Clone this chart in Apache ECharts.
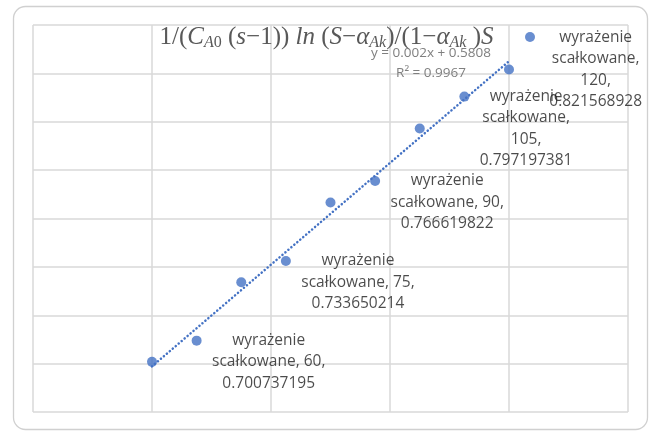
<!DOCTYPE html>
<html><head><meta charset="utf-8">
<script src="https://cdn.jsdelivr.net/npm/echarts@6/dist/echarts.min.js"></script>
<style>html,body{margin:0;padding:0;background:#fff}#c{width:653px;height:432px}</style>
</head><body><div id="c"></div>
<script>
const seriesName = 'wyrażenie scałkowane';
const xValues = [60, 67.5, 75, 82.5, 90, 97.5, 105, 112.5, 120];
const yValues = [0.700737195, 0.7095, 0.733650214, 0.7424, 0.766619822, 0.7755, 0.797197381, 0.8104, 0.821568928];
const labeledX = [60, 75, 90, 105, 120];
const equationText = ['y = 0.002x + 0.5808', 'R² = 0.9967'];
const xTicks = {min: 40, max: 140, interval: 20};
const yTicks = {min: 0.68, max: 0.84, interval: 0.02};

// least-squares trendline from data
const n = xValues.length;
const mx = xValues.reduce((a,b)=>a+b,0)/n;
const my = yValues.reduce((a,b)=>a+b,0)/n;
let sxy = 0, sxx = 0;
for (let i=0;i<n;i++){ sxy += (xValues[i]-mx)*(yValues[i]-my); sxx += (xValues[i]-mx)**2; }
const slope = sxy/sxx, intercept = my - slope*mx;
const xLo = Math.min(...xValues), xHi = Math.max(...xValues);
const trend = [[xLo, intercept + slope*xLo], [xHi, intercept + slope*xHi]];

function wrap(text, limit){
  const words = text.split(' '); const lines = []; let cur = '';
  for (const w of words){
    if (!cur) cur = w;
    else if ((cur + ' ' + w).length <= limit) cur += ' ' + w;
    else { lines.push(cur); cur = w; }
  }
  if (cur) lines.push(cur);
  return lines;
}

const chart = echarts.init(document.getElementById('c'), null, {renderer:'canvas'});
const mathFont = '"Liberation Serif", serif';
const gray = '#595959';
const big = 25, small = 16;
chart.setOption({
  animation: false,
  backgroundColor: '#fff',
  title: {
    text: '{n|1/(}{i|C}{si|A}{sn|0}{n| (}{i|s}{n|−1)) }{i|ln}{n| (}{i|S}{n|−}{i|α}{si|Ak}{n|)/(1−}{i|α}{si|Ak}{n| )}{i|S}',
    left: 'center', top: 19,
    textStyle: {
      fontWeight: 'normal',
      rich: {
        n: {fontFamily: mathFont, fontSize: big, fontWeight: 'normal', color: gray, lineHeight: 27},
        i: {fontFamily: mathFont, fontSize: big, fontWeight: 'normal', fontStyle: 'italic', color: gray, lineHeight: 27},
        si: {fontFamily: mathFont, fontSize: small, fontWeight: 'normal', fontStyle: 'italic', color: gray, lineHeight: 14, verticalAlign: 'bottom'},
        sn: {fontFamily: mathFont, fontSize: small, fontWeight: 'normal', color: gray, lineHeight: 14, verticalAlign: 'bottom'}
      }
    }
  },
  legend: {
    data: [{name: seriesName, icon: 'circle'}],
    left: 520, top: 27, itemWidth: 10, itemHeight: 10,
    formatter: function(){ return ''; },
    textStyle: {fontSize: 10}
  },
  grid: {left: 33, right: 25, top: 25, bottom: 20, containLabel: false},
  xAxis: {
    type: 'value', min: xTicks.min, max: xTicks.max, interval: xTicks.interval,
    axisLine: {show: false}, axisTick: {show: false}, axisLabel: {show: false},
    splitLine: {show: true, lineStyle: {color: '#d9d9d9', width: 1.5}}
  },
  yAxis: {
    type: 'value', min: yTicks.min, max: yTicks.max, interval: yTicks.interval,
    axisLine: {show: false}, axisTick: {show: false}, axisLabel: {show: false},
    splitLine: {show: true, lineStyle: {color: '#d9d9d9', width: 1.5}}
  },
  graphic: [
    {type: 'rect', z: -1, silent: true,
     shape: {x: 13.5, y: 6.5, width: 634, height: 423, r: 12},
     style: {fill: 'none', stroke: '#d0d0d0', lineWidth: 1.3}},
    {type: 'text', x: 431, y: 43, z: 20, silent: true,
     style: {text: equationText.join('\n'), font: '13.5px "Open Sans"', fill: '#7f7f7f', lineHeight: 20, align: 'center'}}
  ],
  series: [
    {
      name: seriesName, type: 'scatter', symbol: 'circle', symbolSize: 10,
      itemStyle: {color: '#4472C4'},
      data: xValues.map((x,i)=>[x, yValues[i]]),
      label: {
        show: true, position: 'right', distance: 55, align: 'center',
        fontFamily: '"Open Sans"', fontSize: 15.5, color: '#1e1e1e', lineHeight: 21.5,
        formatter: function(p){
          const x = p.value[0], y = p.value[1];
          if (labeledX.indexOf(x) < 0) return '';
          return wrap(seriesName + ', ' + x + ', ' + y, 15).join('\n');
        }
      },
      labelLayout: function(params){
        const r = params.labelRect; const maxRight = 642;
        let dx = r.width / 2;
        if (r.x + dx + r.width > maxRight) dx = maxRight - (r.x + r.width);
        return {dx: dx};
      },
      z: 3
    },
    {
      name: 'trend', type: 'line', data: trend, symbol: 'none', silent: true,
      lineStyle: {color: '#4472C4', width: 2.5, type: [0.1, 3.8], cap: 'round'},
      z: 4
    }
  ]
});
</script></body></html>
